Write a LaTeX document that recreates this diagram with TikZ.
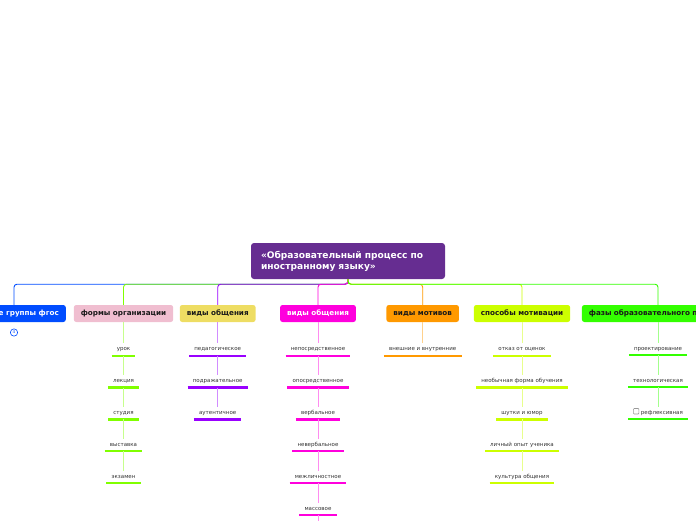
\documentclass[tikz,border=0pt]{standalone}
\usepackage{fontspec}
\setmainfont{DejaVu Sans}
\usetikzlibrary{positioning}
\definecolor{rootpurple}{RGB}{102,45,145}
\definecolor{topblue}{RGB}{0,76,255}
\definecolor{toppink}{RGB}{240,190,208}
\definecolor{topyellow}{RGB}{238,221,99}
\definecolor{topmagenta}{RGB}{255,0,221}
\definecolor{toporange}{RGB}{255,153,0}
\definecolor{toplime}{RGB}{204,255,0}
\definecolor{topgreen}{RGB}{51,255,0}
\definecolor{formgreen}{RGB}{128,255,0}
\definecolor{kindpurple}{RGB}{153,0,255}
\newcommand{\chkbox}{\tikz[baseline=-0.3pt]\draw[gray!80,line width=0.6pt,rounded corners=0.8pt] (0pt,0pt) rectangle (5.5pt,5.5pt);}

\begin{document}
\begin{tikzpicture}[x=1pt,y=-1pt,node distance=19.5pt,
  rootbox/.style={rounded corners=3pt,fill=rootpurple,text=white,font=\fontsize{9.1}{11}\selectfont\bfseries,text width=174pt,align=left,minimum height=36pt,inner xsep=10pt},
  topicbox/.style={rounded corners=2.5pt,fill=#1,text=black!90,font=\fontsize{7.2}{8}\selectfont\bfseries,minimum height=17pt,inner xsep=7pt,inner ysep=0pt},
  item/.style={font=\fontsize{5.5}{6.5}\selectfont,text=black!80,text height=4pt,text depth=1pt,inner xsep=5pt,inner ysep=3.5pt,
    append after command={(\tikzlastnode.south west) edge[draw=#1,line width=2.2pt] (\tikzlastnode.south east)}},
  branch/.style={draw=#1,line width=0.9pt,rounded corners=3pt},
  stem/.style={draw=#1!45,line width=0.8pt}]
\useasboundingbox (0,0) rectangle (696,520);

% root and the point where the branches split
\node[rootbox] (root) at (348,261) {«Образовательный процесс по\\иностранному языку»};
\coordinate[below=5pt of root] (hub);

% topics
\node[topicbox=topblue,text=white,anchor=east] (groups) at (66,313.5) {е группы фгос};
\node[topicbox=toppink] (forms) at (123.5,313.5) {формы организации};
\node[topicbox=topyellow] (kinds) at (217.7,313.5) {виды общения};
\node[topicbox=topmagenta,text=white] (comm) at (318,313.5) {виды общения};
\node[topicbox=toporange] (motives) at (422.7,313.5) {виды мотивов};
\node[topicbox=toplime] (ways) at (522,313.5) {способы мотивации};
\node[topicbox=topgreen,anchor=west,text width=120pt,align=left] (phases) at (581.7,313.5) {фазы образовательного п};
\node[circle,draw=topblue,fill=white,line width=0.6pt,inner sep=0pt,minimum size=7.3pt,font=\fontsize{4}{4}\selectfont,text=topblue] (more4) at (14,332.5) {4};

% формы организации
\node[item=formgreen,below=21pt of forms] (f1) {урок};
\node[item=formgreen,below=of f1] (f2) {лекция};
\node[item=formgreen,below=of f2] (f3) {студия};
\node[item=formgreen,below=of f3] (f4) {выставка};
\node[item=formgreen,below=of f4] (f5) {экзамен};

% виды общения (1)
\node[item=kindpurple,below=21pt of kinds] (k1) {педагогическое};
\node[item=kindpurple,below=of k1] (k2) {подражательное};
\node[item=kindpurple,below=of k2] (k3) {аутентичное};

% виды общения (2)
\node[item=topmagenta,below=21pt of comm] (c1) {непосредственное};
\node[item=topmagenta,below=of c1] (c2) {опосредственное};
\node[item=topmagenta,below=of c2] (c3) {вербальное};
\node[item=topmagenta,below=of c3] (c4) {невербальное};
\node[item=topmagenta,below=of c4] (c5) {межличностное};
\node[item=topmagenta,below=of c5] (c6) {массовое};
\coordinate[below=26pt of c6] (cnext);

% виды мотивов
\node[item=toporange,below=21pt of motives] (m1) {внешние и внутренние};

% способы мотивации
\node[item=toplime,below=21pt of ways] (w1) {отказ от оценок};
\node[item=toplime,below=of w1] (w2) {необычная форма обучения};
\node[item=toplime,below=of w2] (w3) {шутки и юмор};
\node[item=toplime,below=of w3] (w4) {личный опыт ученика};
\node[item=toplime,below=of w4] (w5) {культура общения};

% фазы
\node[item=topgreen] (p1) at (658,349) {проектирование};
\node[item=topgreen,below=of p1] (p2) {технологическая};
\node[item=topgreen,below=of p2] (p3) {\chkbox\ рефлексивная};

% branches
\draw[branch=topblue] (root.south) -- (hub) -| (more4 |- groups.north);
\draw[branch=formgreen] (root.south) -- (hub) -| (forms.north);
\draw[branch=kindpurple] (root.south) -- (hub) -| (kinds.north);
\draw[branch=topmagenta] (root.south) -- (hub) -| (comm.north);
\draw[branch=toporange] (root.south) -- (hub) -| (motives.north);
\draw[branch=toplime] (root.south) -- (hub) -| (ways.north);
\draw[branch=topgreen] (root.south) -- (hub) -| (p1 |- phases.north);

% stems
\draw[stem=formgreen] (forms) -- (f1) (f1) -- (f2) (f2) -- (f3) (f3) -- (f4) (f4) -- (f5);
\draw[stem=kindpurple] (kinds) -- (k1) (k1) -- (k2) (k2) -- (k3);
\draw[stem=topmagenta] (comm) -- (c1) (c1) -- (c2) (c2) -- (c3) (c3) -- (c4) (c4) -- (c5) (c5) -- (c6) (c6) -- (cnext);
\draw[stem=toporange] (motives) -- (m1);
\draw[stem=toplime] (ways) -- (w1) (w1) -- (w2) (w2) -- (w3) (w3) -- (w4) (w4) -- (w5);
\draw[stem=topgreen] (p1 |- phases.south) -- (p1) (p1) -- (p2) (p2) -- (p3);
\end{tikzpicture}
\end{document}
